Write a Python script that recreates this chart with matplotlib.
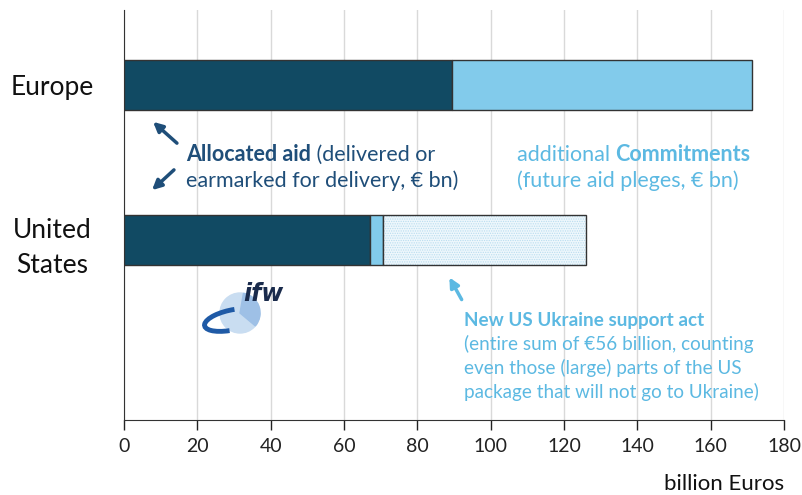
import matplotlib.pyplot as plt
from matplotlib.patches import Circle, Arc, Wedge

# aid to Ukraine, billion euros
regions = ['Europe', 'United\nStates']
allocated = [89.4, 67.1]
commitments = [82.0, 3.5]
new_us_act = [0.0, 55.4]

DARK = '#114A63'
LIGHT = '#82CBEB'
TXT_DARK = '#1F4E79'
TXT_LIGHT = '#5CB9E2'

plt.rcParams['font.family'] = ['Lato', 'DejaVu Sans']
plt.rcParams['hatch.linewidth'] = 0.6

fig = plt.figure(figsize=(8.02, 4.95), dpi=100)
W, H = 802, 495
ax = fig.add_axes([124 / W, 1 - 420 / H, 660 / W, 410 / H])

ypos = list(range(len(regions)))
bh = 0.32
ax.barh(ypos, allocated, height=bh, color=DARK, edgecolor='#333333', lw=1, zorder=3)
ax.barh(ypos, commitments, left=allocated, height=bh, color=LIGHT, edgecolor='#333333', lw=1, zorder=3)
left3 = [a + c for a, c in zip(allocated, commitments)]
# dotted fill first, outline on top
ax.barh(ypos[1], new_us_act[1], left=left3[1], height=bh, facecolor='#EEF7FC',
        edgecolor='#B9DDEF', lw=0, hatch='.......', zorder=3)
ax.barh(ypos[1], new_us_act[1], left=left3[1], height=bh, fill=False,
        edgecolor='#333333', lw=1, zorder=4)

ax.set_xlim(0, 180)
ax.set_ylim(2.16, -0.484)
ax.set_xticks(range(0, 181, 20))
ax.set_yticks(ypos)
ax.set_yticklabels(regions, fontsize=19, color='#111111', ha='center', linespacing=1.5)
ax.tick_params(axis='y', length=0, pad=52)
ax.tick_params(axis='x', length=7, width=1, labelsize=14, pad=6, colors='#222222')
ax.grid(axis='x', color='#D9D9D9', lw=1, zorder=0)
for s in ['top', 'right']:
    ax.spines[s].set_visible(False)
ax.spines['left'].set_color('#333333')
ax.spines['bottom'].set_color('#333333')
ax.set_axisbelow(True)


def px(x, y):
    return (x / W, 1 - y / H)


fs = 15.5
t1 = fig.text(*px(186, 161), 'Allocated aid', fontsize=fs, weight='bold', color=TXT_DARK, va='baseline')
ax.annotate(' (delivered or', xy=(1, 0), xycoords=t1, va='bottom', fontsize=fs, color=TXT_DARK,
            annotation_clip=False)
fig.text(*px(186, 187), 'earmarked for delivery, € bn)', fontsize=fs, color=TXT_DARK, va='baseline')

t2 = fig.text(*px(517, 161), 'additional ', fontsize=fs, color=TXT_LIGHT, va='baseline')
ax.annotate('Commitments', xy=(1, 0), xycoords=t2, va='bottom', fontsize=fs, weight='bold',
            color=TXT_LIGHT, annotation_clip=False)
fig.text(*px(517, 187), '(future aid pleges, € bn)', fontsize=fs, color=TXT_LIGHT, va='baseline')

fs2 = 13.6
fig.text(*px(464, 326), 'New US Ukraine support act', fontsize=fs2, weight='bold', color=TXT_LIGHT, va='baseline')
fig.text(*px(464, 350), '(entire sum of €56 billion, counting', fontsize=fs2, color=TXT_LIGHT, va='baseline')
fig.text(*px(464, 374), 'even those (large) parts of the US', fontsize=fs2, color=TXT_LIGHT, va='baseline')
fig.text(*px(464, 398), 'package that will not go to Ukraine)', fontsize=fs2, color=TXT_LIGHT, va='baseline')

fig.text(*px(784, 490), 'billion Euros', fontsize=16, color='#111111', ha='right', va='baseline')

# arrows
arrow_kw = dict(arrowstyle='-|>', mutation_scale=14, lw=2.5)
ax.annotate('', xy=px(151, 120), xytext=px(179, 145), xycoords='figure fraction',
            textcoords='figure fraction', arrowprops=dict(color=TXT_DARK, **arrow_kw))
ax.annotate('', xy=px(150, 192), xytext=px(176, 168), xycoords='figure fraction',
            textcoords='figure fraction', arrowprops=dict(color=TXT_DARK, **arrow_kw))
ax.annotate('', xy=px(448, 275), xytext=px(463, 302), xycoords='figure fraction',
            textcoords='figure fraction', arrowprops=dict(color=TXT_LIGHT, **arrow_kw))

# ifw logo
lax = fig.add_axes([195 / W, 1 - 340 / H, 95 / W, 60 / H])
lax.set_xlim(195, 290)
lax.set_ylim(340, 280)
lax.set_aspect('equal')
lax.axis('off')
lax.add_patch(Circle((240, 313), 20, color='#C9DDF1'))
lax.add_patch(Wedge((240, 313), 20, -80, 40, color='#9EC0E6'))
lax.add_patch(Arc((232, 320), 56, 20, angle=-12, theta1=115, theta2=295, color='#1F5AA6', lw=3.5))
lax.text(243, 294, 'ifw', fontsize=17, weight='bold', style='italic', color='#1A2B4C',
         va='center', family='DejaVu Sans')

fig.savefig('out.png', dpi=100)
